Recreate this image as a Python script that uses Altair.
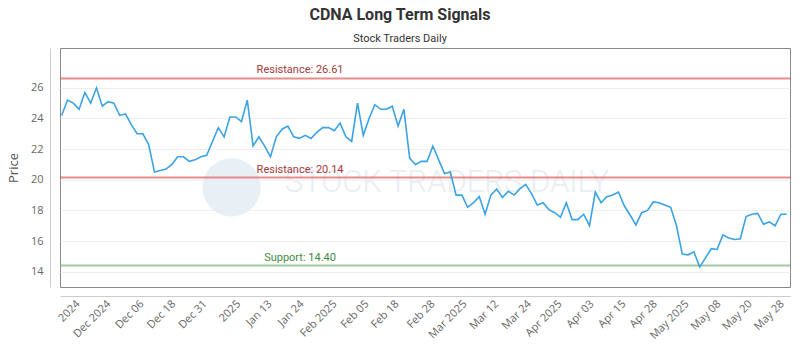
import altair as alt
import pandas as pd

# ---- data ----
prices = [24.2, 25.2, 25.0, 24.6, 25.7, 25.0, 26.0, 24.8, 25.1, 25.0,
          24.2, 24.3, 23.6, 23.0, 23.0, 22.3, 20.5, 20.6, 20.7, 21.0,
          21.5, 21.5, 21.2, 21.3, 21.5, 21.6, 22.5, 23.4, 22.8, 24.1,
          24.1, 23.8, 25.2, 22.2, 22.8, 22.2, 21.5, 22.8, 23.3, 23.5,
          22.8, 22.7, 22.9, 22.7, 23.1, 23.4, 23.4, 23.2, 23.7, 22.8,
          22.5, 25.0, 22.9, 24.0, 24.9, 24.6, 24.6, 24.8, 23.5, 24.6,
          21.4, 21.0, 21.2, 21.2, 22.2, 21.3, 20.4, 20.5, 19.0, 19.0,
          18.2, 18.5, 18.9, 17.75, 19.0, 19.4, 18.85, 19.25, 19.0, 19.4,
          19.7, 19.1, 18.35, 18.5, 18.05, 17.85, 17.55, 18.5, 17.4, 17.4,
          17.75, 17.0, 19.2, 18.5, 18.9, 19.0, 19.2, 18.3, 17.7, 17.05,
          17.85, 18.0, 18.55, 18.5, 18.35, 18.2, 17.0, 15.15, 15.1, 15.3,
          14.3, 14.9, 15.5, 15.45, 16.4, 16.2, 16.1, 16.15, 17.6, 17.75,
          17.8, 17.1, 17.25, 17.0, 17.75, 17.75]

tick_pos = [2.8, 8.1, 13.8, 19.3, 24.7, 30.5, 35.9, 41.4, 47.1, 52.6, 57.8,
            64.0, 69.5, 75.0, 80.6, 85.9, 91.4, 96.9, 102.3, 107.8, 113.3,
            118.7, 124.2]
tick_labels = ["2024", "Dec 2024", "Dec 06", "Dec 18", "Dec 31", "2025",
               "Jan 13", "Jan 24", "Feb 2025", "Feb 05", "Feb 18", "Feb 28",
               "Mar 2025", "Mar 12", "Mar 24", "Apr 2025", "Apr 03", "Apr 15",
               "Apr 28", "May 2025", "May 08", "May 20", "May 28"]

y_ticks = [14, 16, 18, 20, 22, 24, 26]

level_values = [26.61, 20.14, 14.40]
level_labels = ["Resistance: 26.61", "Resistance: 20.14", "Support: 14.40"]
level_kinds = ["Resistance", "Resistance", "Support"]

# ---- tables ----
df = pd.DataFrame({"idx": list(range(len(prices))), "price": prices})
levels = pd.DataFrame({"idx": [41.1] * 3, "price": level_values,
                       "label": level_labels, "kind": level_kinds})
wm_text = pd.DataFrame({"idx": [66.4], "price": [19.8], "t": ["STOCK TRADERS DAILY"]})
wm_logo = pd.DataFrame({"idx": [29.3], "price": [19.5]})

xscale = alt.Scale(domain=[-0.29, 125.57], nice=False, zero=False)
yscale = alt.Scale(domain=[13, 28.6], nice=False, zero=False)

pos_js = "[" + ",".join(str(p) for p in tick_pos) + "]"
lab_js = "[" + ",".join("'" + l + "'" for l in tick_labels) + "]"
label_expr = f"{lab_js}[indexof({pos_js}, datum.value)]"

x_axis = alt.Axis(values=tick_pos, labelExpr=label_expr, labelAngle=-45,
                  labelAlign="right", labelBaseline="middle", labelPadding=6,
                  offset=9, domainColor="#cccccc", ticks=False, grid=False,
                  title=None, labelFont="Open Sans", labelFontSize=11,
                  labelColor="#666666", labelOverlap=False, labelBound=False)
y_axis = alt.Axis(values=y_ticks, offset=10, domainColor="#cccccc", ticks=False,
                  grid=True, gridColor="#eeeeee", labelPadding=7,
                  labelFont="Open Sans", labelFontSize=11, labelColor="#666666",
                  title="Price", titleFont="Open Sans", titleFontSize=13,
                  titleFontWeight="normal", titleColor="#555555", titlePadding=10)

X = alt.X("idx:Q", scale=xscale, axis=x_axis)
Y = alt.Y("price:Q", scale=yscale, axis=y_axis)

logo = alt.Chart(wm_logo).mark_point(filled=True, size=3400, color="#e3ecf3",
                                     opacity=0.8).encode(x=X, y=Y)

wm = alt.Chart(wm_text).mark_text(font="Roboto", fontSize=31, fontWeight=300,
                                  color="#e8eef3").encode(x=X, y=Y, text="t:N")

lines = alt.Chart(levels).mark_rule(strokeWidth=2, opacity=0.75).encode(
    y=Y,
    color=alt.Color("kind:N", scale=alt.Scale(domain=["Resistance", "Support"],
                                              range=["#e06666", "#7fb87f"]),
                    legend=None))

labels = alt.Chart(levels).mark_text(font="Roboto", fontSize=11, dy=-8,
                                     align="center").encode(
    x=X, y=Y, text="label:N",
    color=alt.Color("kind:N", scale=alt.Scale(domain=["Resistance", "Support"],
                                              range=["#a33a3a", "#3f8a3f"]),
                    legend=None))

price_line = alt.Chart(df).mark_line(color="#3aa3e6", strokeWidth=1.6).encode(
    x=X, y=Y)

chart = alt.layer(logo, wm, lines, labels, price_line).resolve_scale(
    color="independent"
).properties(
    width=730, height=239,
    autosize=alt.AutoSizeParams(type="none"),
    padding={"left": 60, "top": 48, "right": 10, "bottom": 63},
    title=alt.TitleParams("CDNA Long Term Signals", subtitle="Stock Traders Daily",
                          font="Roboto", fontSize=16, fontWeight="bold",
                          color="#333333", subtitleFont="Roboto",
                          subtitleFontSize=11, subtitleColor="#333333",
                          anchor="middle", dx=-25, offset=4, subtitlePadding=10)
).configure_view(stroke="#888888", strokeWidth=1)

chart.save("out.html", embed_options={"renderer": "svg", "actions": False})
